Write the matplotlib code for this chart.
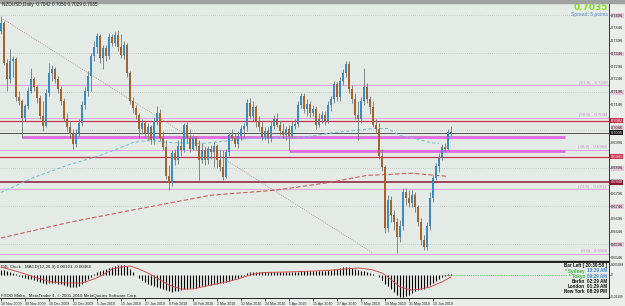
#!/usr/bin/env python

import numpy as np
import matplotlib
matplotlib.use("Agg")
import matplotlib.pyplot as plt
from matplotlib.patches import Rectangle

# daily NZDUSD bars, 18 Nov 2009 .. 17 Jun 2010
opens = [0.7434, 0.7465, 0.7309, 0.7246, 0.7317, 0.7324, 0.7176, 0.7160, 0.7094, 0.7141,
         0.7199, 0.7246, 0.7215, 0.7172, 0.7101, 0.7062, 0.7191, 0.7270, 0.7285, 0.7246,
         0.7207, 0.7160, 0.7090, 0.7058, 0.7031, 0.6992, 0.7035, 0.7074, 0.7144, 0.7199,
         0.7258, 0.7336, 0.7371, 0.7414, 0.7328, 0.7367, 0.7336, 0.7410, 0.7387, 0.7418,
         0.7371, 0.7340, 0.7379, 0.7270, 0.7160, 0.7133, 0.7105, 0.7051, 0.7074, 0.7035,
         0.7058, 0.7004, 0.7082, 0.7113, 0.7015, 0.6980, 0.6863, 0.6836, 0.6953, 0.6926,
         0.6984, 0.6965, 0.7066, 0.7012, 0.6972, 0.7012, 0.6984, 0.6926, 0.6965, 0.6926,
         0.6972, 0.6957, 0.6984, 0.6926, 0.6898, 0.6859, 0.6957, 0.7027, 0.7015, 0.6992,
         0.7023, 0.7051, 0.7062, 0.7152, 0.7101, 0.7137, 0.7082, 0.7058, 0.7019, 0.7043,
         0.7012, 0.7062, 0.7090, 0.7066, 0.7043, 0.7027, 0.7051, 0.7023, 0.7062, 0.7070,
         0.7144, 0.7180, 0.7129, 0.7148, 0.7113, 0.7129, 0.7066, 0.7090, 0.7105, 0.7082,
         0.7144, 0.7168, 0.7227, 0.7176, 0.7238, 0.7270, 0.7305, 0.7207, 0.7168, 0.7105,
         0.7090, 0.7160, 0.7215, 0.7168, 0.7137, 0.7066, 0.7051, 0.6945, 0.6898, 0.6660,
         0.6769, 0.6710, 0.6683, 0.6624, 0.6667, 0.6800, 0.6777, 0.6757, 0.6789, 0.6742,
         0.6683, 0.6613, 0.6585, 0.6667, 0.6777, 0.6855, 0.6902, 0.6941, 0.6980, 0.6972,
         0.7039]
highs = [0.7492, 0.7473, 0.7324, 0.7363, 0.7336, 0.7332, 0.7199, 0.7168, 0.7148, 0.7215,
         0.7289, 0.7254, 0.7223, 0.7184, 0.7160, 0.7207, 0.7309, 0.7301, 0.7293, 0.7258,
         0.7219, 0.7172, 0.7113, 0.7082, 0.7051, 0.7051, 0.7090, 0.7160, 0.7215, 0.7277,
         0.7348, 0.7395, 0.7426, 0.7422, 0.7379, 0.7379, 0.7426, 0.7422, 0.7434, 0.7438,
         0.7422, 0.7395, 0.7387, 0.7277, 0.7176, 0.7144, 0.7113, 0.7090, 0.7082, 0.7074,
         0.7066, 0.7098, 0.7141, 0.7129, 0.7043, 0.7004, 0.6906, 0.6965, 0.6972, 0.7004,
         0.7015, 0.7074, 0.7078, 0.7051, 0.7027, 0.7023, 0.7004, 0.6996, 0.6980, 0.6984,
         0.6988, 0.7000, 0.6992, 0.6972, 0.6965, 0.6972, 0.7039, 0.7051, 0.7035, 0.7043,
         0.7066, 0.7074, 0.7168, 0.7172, 0.7160, 0.7144, 0.7101, 0.7082, 0.7058, 0.7055,
         0.7082, 0.7105, 0.7113, 0.7082, 0.7074, 0.7062, 0.7066, 0.7082, 0.7090, 0.7160,
         0.7191, 0.7191, 0.7168, 0.7160, 0.7144, 0.7141, 0.7113, 0.7121, 0.7121, 0.7160,
         0.7180, 0.7238, 0.7234, 0.7254, 0.7285, 0.7317, 0.7317, 0.7223, 0.7191, 0.7160,
         0.7176, 0.7289, 0.7231, 0.7180, 0.7160, 0.7090, 0.7074, 0.6972, 0.6906, 0.6789,
         0.6785, 0.6730, 0.6699, 0.6691, 0.6816, 0.6816, 0.6808, 0.6808, 0.6800, 0.6750,
         0.6699, 0.6632, 0.6683, 0.6800, 0.6867, 0.6914, 0.6953, 0.6992, 0.6996, 0.7051,
         0.7062]
lows = [0.7422, 0.7301, 0.7199, 0.7231, 0.7254, 0.7160, 0.7144, 0.7015, 0.7082, 0.7129,
        0.7191, 0.7199, 0.7152, 0.7090, 0.7043, 0.7055, 0.7180, 0.7238, 0.7231, 0.7191,
        0.7144, 0.7082, 0.7043, 0.7015, 0.6969, 0.6980, 0.7023, 0.7062, 0.7129, 0.7180,
        0.7199, 0.7317, 0.7348, 0.7309, 0.7285, 0.7317, 0.7324, 0.7375, 0.7375, 0.7356,
        0.7328, 0.7324, 0.7254, 0.7148, 0.7113, 0.7090, 0.7015, 0.7031, 0.7019, 0.7004,
        0.6992, 0.6992, 0.7066, 0.7004, 0.6965, 0.6851, 0.6808, 0.6824, 0.6906, 0.6910,
        0.6945, 0.6957, 0.6996, 0.6957, 0.6965, 0.6965, 0.6847, 0.6914, 0.6906, 0.6910,
        0.6933, 0.6898, 0.6894, 0.6886, 0.6847, 0.6855, 0.6945, 0.7004, 0.6980, 0.6976,
        0.7004, 0.7019, 0.7043, 0.7090, 0.7082, 0.7058, 0.7043, 0.7004, 0.7004, 0.6996,
        0.7000, 0.7051, 0.7055, 0.7027, 0.7012, 0.7004, 0.6965, 0.7015, 0.7051, 0.7055,
        0.7133, 0.7113, 0.7101, 0.7098, 0.7101, 0.7051, 0.7058, 0.7074, 0.7066, 0.7074,
        0.7121, 0.7152, 0.7160, 0.7160, 0.7223, 0.7254, 0.7191, 0.7152, 0.7090, 0.7004,
        0.7074, 0.7144, 0.7152, 0.7109, 0.7055, 0.7035, 0.6933, 0.6886, 0.6640, 0.6644,
        0.6683, 0.6652, 0.6562, 0.6605, 0.6652, 0.6750, 0.6742, 0.6742, 0.6722, 0.6667,
        0.6593, 0.6574, 0.6574, 0.6652, 0.6761, 0.6847, 0.6879, 0.6926, 0.6957, 0.6965,
        0.7023]
closes = [0.7465, 0.7309, 0.7246, 0.7317, 0.7324, 0.7176, 0.7160, 0.7094, 0.7141, 0.7199,
          0.7246, 0.7215, 0.7172, 0.7101, 0.7062, 0.7191, 0.7270, 0.7285, 0.7246, 0.7207,
          0.7160, 0.7090, 0.7058, 0.7031, 0.6992, 0.7035, 0.7074, 0.7144, 0.7199, 0.7258,
          0.7336, 0.7371, 0.7414, 0.7328, 0.7367, 0.7336, 0.7410, 0.7387, 0.7418, 0.7371,
          0.7340, 0.7379, 0.7270, 0.7160, 0.7133, 0.7105, 0.7051, 0.7074, 0.7035, 0.7058,
          0.7004, 0.7082, 0.7113, 0.7015, 0.6980, 0.6863, 0.6836, 0.6953, 0.6926, 0.6984,
          0.6965, 0.7066, 0.7012, 0.6972, 0.7012, 0.6984, 0.6926, 0.6965, 0.6926, 0.6972,
          0.6957, 0.6984, 0.6926, 0.6898, 0.6859, 0.6957, 0.7027, 0.7015, 0.6992, 0.7023,
          0.7051, 0.7062, 0.7152, 0.7101, 0.7137, 0.7082, 0.7058, 0.7019, 0.7043, 0.7012,
          0.7062, 0.7090, 0.7066, 0.7043, 0.7027, 0.7051, 0.7023, 0.7062, 0.7070, 0.7144,
          0.7180, 0.7129, 0.7148, 0.7113, 0.7129, 0.7066, 0.7090, 0.7105, 0.7082, 0.7144,
          0.7168, 0.7227, 0.7176, 0.7238, 0.7270, 0.7305, 0.7207, 0.7168, 0.7105, 0.7090,
          0.7160, 0.7215, 0.7168, 0.7137, 0.7066, 0.7051, 0.6945, 0.6898, 0.6660, 0.6769,
          0.6710, 0.6683, 0.6624, 0.6667, 0.6800, 0.6777, 0.6757, 0.6789, 0.6742, 0.6683,
          0.6613, 0.6585, 0.6667, 0.6777, 0.6855, 0.6902, 0.6941, 0.6980, 0.6972, 0.7039,
          0.7035]

# moving averages (read at a few bars)
ma_blue_idx = [0, 11, 22, 33, 40, 44, 49, 56, 67, 83, 100, 111, 124, 129, 133, 137, 143, 146]
ma_blue = [0.6800, 0.6859, 0.6906, 0.6945, 0.6976, 0.6996, 0.7004, 0.6996, 0.6992, 0.7012,
           0.7015, 0.7035, 0.7051, 0.7051, 0.7023, 0.7015, 0.6996, 0.6992]
ma_red_idx = [0, 23, 47, 70, 91, 110, 122, 137, 149]
ma_red = [0.6621, 0.6683, 0.6738, 0.6789, 0.6808, 0.6840, 0.6867, 0.6875, 0.6863]

# trend line, fib levels and horizontal lines
trend_idx = [0.7, 124]
trend_px = [0.7481, 0.6562]
fib_names = ["61.8", "50.0", "38.2", "23.6", "0.0"]
fib_levels = [0.7220, 0.7094, 0.6968, 0.6812, 0.6560]
red_levels = [0.7082, 0.6941]
maroon_level = 0.6840
last_price = 0.7035
magenta_levels = [0.7019, 0.6961]
magenta_start = [7, 96]
magenta_end = 188

# price scale
price_ticks = [0.7546, 0.7496, 0.7446, 0.7396, 0.7346, 0.7296, 0.7246, 0.7196, 0.7146,
               0.7046, 0.6996, 0.6896, 0.6846, 0.6796, 0.6746, 0.6696, 0.6646, 0.6596,
               0.6546]
grid_levels = [0.7496, 0.7346, 0.7196, 0.7046, 0.6896, 0.6746, 0.6596]

# MACD histogram (main) and signal
macd_hist = [0.0025, 0.0025, 0.0020, 0.0015, 0.0010, 0.0005, -0.0005, -0.0010, -0.0015, -0.0020,
             -0.0020, -0.0025, -0.0030, -0.0035, -0.0040, -0.0045, -0.0040, -0.0040, -0.0040, -0.0045,
             -0.0045, -0.0050, -0.0055, -0.0060, -0.0060, -0.0060, -0.0055, -0.0045, -0.0035, -0.0020,
             -0.0010, 0.0005, 0.0015, 0.0020, 0.0025, 0.0030, 0.0035, 0.0040, 0.0045, 0.0050,
             0.0050, 0.0050, 0.0045, 0.0030, 0.0015, 0.0000, -0.0015, -0.0025, -0.0035, -0.0045,
             -0.0050, -0.0055, -0.0060, -0.0065, -0.0070, -0.0075, -0.0080, -0.0085, -0.0080, -0.0080,
             -0.0075, -0.0070, -0.0070, -0.0065, -0.0065, -0.0065, -0.0060, -0.0055, -0.0055, -0.0050,
             -0.0050, -0.0045, -0.0045, -0.0040, -0.0040, -0.0035, -0.0030, -0.0025, -0.0020, -0.0015,
             -0.0010, -0.0005, 0.0010, 0.0015, 0.0015, 0.0015, 0.0015, 0.0015, 0.0015, 0.0015,
             0.0015, 0.0015, 0.0015, 0.0015, 0.0015, 0.0015, 0.0015, 0.0015, 0.0015, 0.0015,
             0.0020, 0.0020, 0.0020, 0.0020, 0.0020, 0.0020, 0.0020, 0.0020, 0.0020, 0.0025,
             0.0025, 0.0030, 0.0030, 0.0035, 0.0040, 0.0040, 0.0040, 0.0035, 0.0030, 0.0025,
             0.0020, 0.0020, 0.0015, 0.0010, 0.0005, 0.0000, -0.0010, -0.0025, -0.0045, -0.0055,
             -0.0070, -0.0085, -0.0100, -0.0110, -0.0110, -0.0105, -0.0100, -0.0090, -0.0080, -0.0075,
             -0.0070, -0.0070, -0.0060, -0.0050, -0.0040, -0.0030, -0.0020, -0.0010, -0.0005, 0.0005,
             0.0005]
signal_idx = [0, 6, 12, 17, 22, 27, 31, 34, 37, 40, 43, 46, 49, 52, 56, 60, 64, 67, 70, 75,
              79, 83, 87, 95, 105, 111, 116, 119, 122, 124, 127, 129, 131, 133, 137, 140, 143,
              147, 150]
signal = [0.0040, 0.0015, -0.0015, -0.0035, -0.0040, -0.0040, -0.0020, 0.0000, 0.0030, 0.0040,
          0.0045, 0.0030, 0.0010, -0.0015, -0.0050, -0.0070, -0.0070, -0.0060, -0.0050, -0.0035,
          -0.0020, 0.0000, 0.0012, 0.0015, 0.0020, 0.0025, 0.0032, 0.0035, 0.0030, 0.0025,
          0.0010, -0.0010, -0.0035, -0.0060, -0.0075, -0.0070, -0.0060, -0.0035, -0.0010]

date_idx = [0, 8, 16, 24, 32, 40, 48, 56, 64, 72, 80, 88, 96, 104, 112, 120, 128, 136, 144]
date_labels = ["18 Nov 2009", "30 Nov 2009", "10 Dec 2009", "22 Dec 2009", "5 Jan 2010",
               "15 Jan 2010", "27 Jan 2010", "8 Feb 2010", "18 Feb 2010", "2 Mar 2010",
               "12 Mar 2010", "24 Mar 2010", "5 Apr 2010", "15 Apr 2010", "27 Apr 2010",
               "7 May 2010", "19 May 2010", "31 May 2010", "10 Jun 2010"]

clock_names = ["* Sydney", "* Tokyo", "Berlin", "London", "New York"]
clock_times = ["10:29 AM", "09:29 AM", "02:29 AM", "01:29 AM", "08:29 PM"]

bg = '#e4ebe7'
bull = '#3b8cc2'
bear = '#a5632d'
plt.rcParams['font.family'] = ['Liberation Sans', 'DejaVu Sans']

W, H = 625, 306
fig = plt.figure(figsize=(W / 100, H / 100), dpi=100, facecolor='#eaefec')
ax = fig.add_axes([0, 1 - 261 / H, 609 / W, (261 - 2.5) / H], facecolor=bg)
ax2 = fig.add_axes([0, 1 - 298 / H, 609 / W, 36 / H], facecolor=bg)

# window strip at top
fig.patches.append(Rectangle((0, 1 - 2.5 / H), 1, 2.5 / H, transform=fig.transFigure,
                             color='#9ea3a1', zorder=5))

x = np.arange(len(closes))
xlim = (-0.3, 202.7)

# grid
ax.hlines(grid_levels, xlim[0], xlim[1], colors='#aab3ae', linestyles=(0, (1, 2)), lw=0.5, zorder=1)

# horizontal lines
for lv in fib_levels:
    ax.axhline(lv, color='#dcaadc', lw=0.8, zorder=2)
for lv in red_levels:
    ax.axhline(lv, color='#c8344f', lw=0.9, zorder=2)
ax.axhline(maroon_level, color='#8a1432', lw=1.1, zorder=2)
ax.axhline(last_price, color='#555555', lw=0.7, zorder=2)
for lv, st in zip(magenta_levels, magenta_start):
    ax.hlines(lv, st, magenta_end, colors='#e06ae0', lw=2.0, zorder=2)

for nm, lv in zip(fib_names, fib_levels):
    ax.text(0.997, lv + 0.0003, "(%s) - %.4f" % (nm, lv), transform=ax.get_yaxis_transform(),
            ha='right', va='bottom', fontsize=3.2, color='#c790c7', zorder=3)

# moving averages and trend line
ax.plot(ma_red_idx, ma_red, color='#c9605a', lw=0.8, ls=(0, (4, 2)), zorder=3)
ax.plot(ma_blue_idx, ma_blue, color='#77c3da', lw=0.8, ls=(0, (3, 2)), zorder=3)
ax.plot(trend_idx, trend_px, color='#a88c80', lw=0.6, ls=(0, (1, 1.5)), zorder=3)

# candles
o = np.array(opens)
c = np.array(closes)
up = c >= o
ax.vlines(x, lows, highs, colors='#6f777b', lw=0.6, zorder=4)
body_lo = np.minimum(o, c)
body_h = np.maximum(np.abs(c - o), 0.0002)
ax.bar(x[up], body_h[up], bottom=body_lo[up], width=0.66, color=bull, zorder=5)
ax.bar(x[~up], body_h[~up], bottom=body_lo[~up], width=0.66, color=bear, zorder=5)

ax.set_xlim(*xlim)
ax.set_ylim(0.65306, 0.75413)
ax.set_xticks([])
ax.yaxis.tick_right()
ax.set_yticks(price_ticks)
ax.set_yticklabels(["%.4f" % t for t in price_ticks])
ax.tick_params(axis='y', labelsize=2.9, length=1, width=0.5, pad=0.6, colors='#222222')
for lbl, t in zip(ax.get_yticklabels(), price_ticks):
    if t in grid_levels:
        lbl.set_bbox(dict(boxstyle='square,pad=0.1', fc='#e5c6d8', ec='none'))
    if abs(t - last_price) < 0.0015:
        # sits just above the last-price box
        lbl.set_verticalalignment('bottom')
for sp in ['left', 'top']:
    ax.spines[sp].set_visible(False)
ax.spines['right'].set_color('#333333')
ax.spines['right'].set_linewidth(0.7)
ax.spines['bottom'].set_color('#222222')
ax.spines['bottom'].set_linewidth(1.0)

# price boxes on the scale
for lv, col in [(red_levels[0], '#c8344f'), (last_price, '#111111'),
                (red_levels[1], '#c8344f'), (maroon_level, '#8a1432')]:
    ax.text(1.0025, lv, "%.4f" % lv, transform=ax.get_yaxis_transform(), ha='left', va='center',
            fontsize=2.9, color='white', clip_on=False, zorder=6,
            bbox=dict(boxstyle='square,pad=0.12', fc=col, ec='none'))

# texts on the chart
fig.text(2 / W, 1 - 4.5 / H, "NZDUSD,Daily  0.7042 0.7050 0.7029 0.7035", fontsize=3.4,
         color='#222222', va='center', ha='left', zorder=6)
fig.text(608 / W, 1 - 7.5 / H, "0.7035", fontsize=6.5, fontweight='bold', color='#7fe01a',
         ha='right', va='center', family='DejaVu Sans')
fig.text(608 / W, 1 - 14.5 / H, "Spread: 5 points", fontsize=3.6, color='#5b8ccc',
         ha='right', va='center')

# MACD window
ax2.vlines(x, 0, macd_hist, colors='black', lw=0.8, zorder=3)
ax2.plot(signal_idx, signal, color='#d2504e', lw=0.7, zorder=4)
ax2.hlines(0, 147.5, 189, colors='#46b04a', linestyles=(0, (1, 1.2)), lw=0.6, zorder=2)
ax2.set_xlim(*xlim)
ax2.set_ylim(-0.0115, 0.0065)
ax2.yaxis.tick_right()
ax2.set_yticks([0.0050, 0.0, -0.0110])
ax2.set_yticklabels(["0.005088", "0", "-0.01109"])
ax2.tick_params(axis='y', labelsize=2.3, length=1, width=0.5, pad=0.5, colors='#222222')
ax2.set_xticks(date_idx)
ax2.set_xticklabels(date_labels, ha='left')
ax2.tick_params(axis='x', labelsize=2.6, length=2, width=0.5, pad=0.8, colors='#222222')
ax2.spines['left'].set_visible(False)
for sp in ['right', 'top', 'bottom']:
    ax2.spines[sp].set_color('#222222')
    ax2.spines[sp].set_linewidth(0.7)

ax2.text(1 / 609, 0.86, "P4L Clock", transform=ax2.transAxes, fontsize=3.2, color='#222222',
         va='center', ha='left')
ax2.text(25 / 609, 0.86, "MACD(12,26,9) 0.00101 -0.00466", transform=ax2.transAxes,
         fontsize=3.2, color='#222222', va='center', ha='left')
ax2.text(1 / 609, 0.06, "FXDD Malta - MetaTrader 4, \u00a9 2001-2010 MetaQuotes Software Corp.",
         transform=ax2.transAxes, fontsize=3.2, color='#222222', va='center', ha='left')

# clock box
ax2.text(607 / 609, 0.89, "Bar Left [ 20:30:58 ]", transform=ax2.transAxes, fontsize=3.3,
         fontweight='bold', color='#111111', ha='right', va='center')
rows_y = [0.75, 0.61, 0.47, 0.33, 0.19]
for k, (nm, tm) in enumerate(zip(clock_names, clock_times)):
    ncol = '#3daa3d' if k < 2 else '#111111'
    tcol = '#3f86d6' if k < 2 else '#111111'
    ax2.text(585 / 609, rows_y[k], nm, transform=ax2.transAxes, fontsize=3.3, fontweight='bold',
             color=ncol, ha='right', va='center')
    ax2.text(607 / 609, rows_y[k], tm, transform=ax2.transAxes, fontsize=3.3, fontweight='bold',
             color=tcol, ha='right', va='center')

plt.savefig('out.png', dpi=100, facecolor=fig.get_facecolor())
